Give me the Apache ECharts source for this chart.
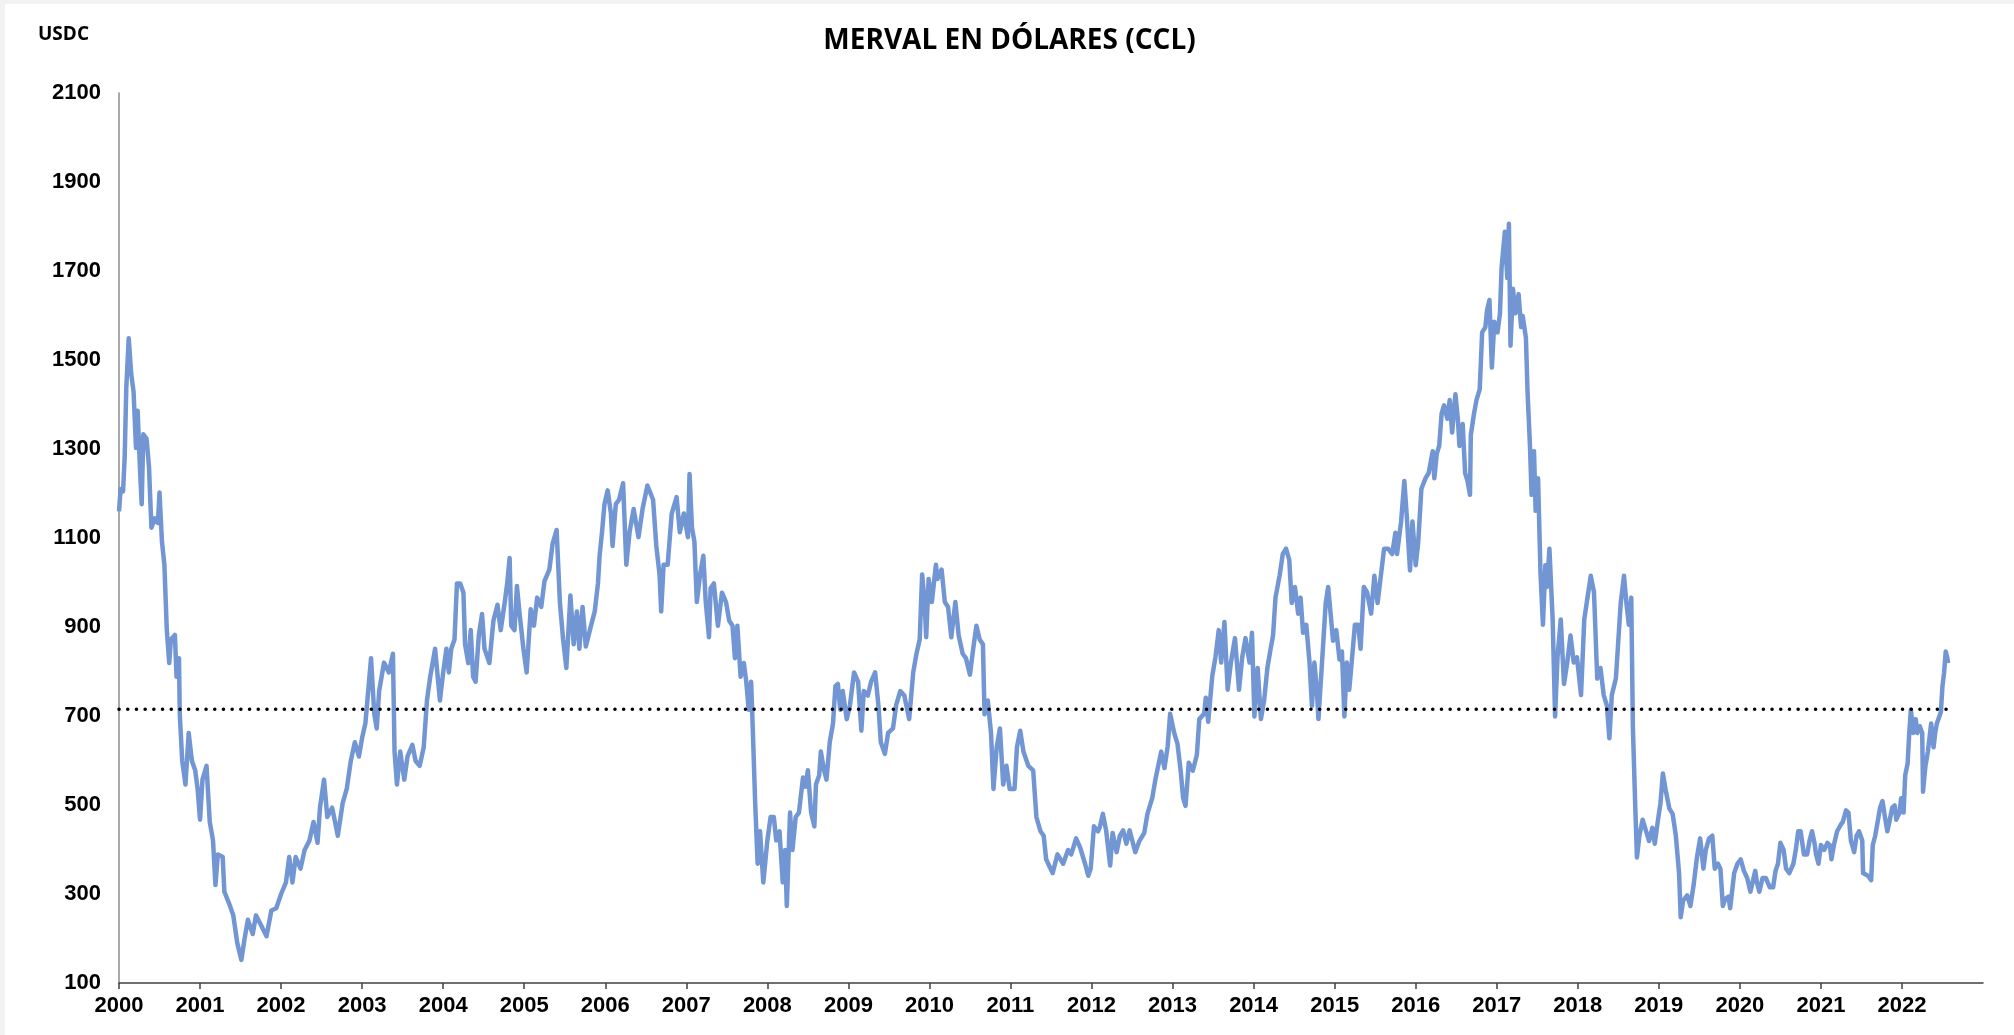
<!DOCTYPE html>
<html lang="es">
<head>
    <meta charset="UTF-8">
    <title>MERVAL EN DÓLARES (CCL)</title>
    <script src="https://cdn.jsdelivr.net/npm/echarts@6/dist/echarts.min.js"></script>
    <style>
        html, body { margin: 0; padding: 0; background: #f2f2f2; }
        #main { position: absolute; left: 5px; top: 4px; width: 2009px; height: 1031px; background: #ffffff; }
    </style>
</head>
<body>
<div id="main"></div>
<script>
    // MERVAL en dolares CCL: [año decimal, USD]
    var tramo2000 = [
        [2000.00,1160],[2000.02,1210],[2000.05,1205],[2000.07,1281],[2000.09,1438],[2000.12,1549],[2000.15,1470],
        [2000.18,1428],[2000.21,1302],[2000.23,1386],[2000.26,1250],[2000.28,1176],[2000.30,1333],[2000.34,1323],
        [2000.37,1260],[2000.40,1123],[2000.44,1144],[2000.48,1134],[2000.50,1202],[2000.53,1092],[2000.56,1040],
        [2000.59,893],[2000.62,819],[2000.64,872],[2000.69,882],[2000.71,788],[2000.74,830],[2000.75,704],
        [2000.78,599],[2000.82,546],[2000.86,662],[2000.90,599],[2000.94,578],[2000.97,536],
        [2001.00,467],[2001.03,557],[2001.08,588],[2001.12,462],[2001.16,420],[2001.19,320],[2001.22,389],
        [2001.28,383],[2001.30,305],[2001.36,278],[2001.41,252],[2001.46,189],[2001.51,152],[2001.55,200],
        [2001.59,242],[2001.65,210],[2001.69,252],[2001.75,231],[2001.82,205],[2001.88,263],[2001.94,268],
        [2002.00,300],[2002.06,326],[2002.10,383],[2002.14,326],[2002.18,383],[2002.24,357],[2002.29,399],
        [2002.35,420],[2002.40,462],[2002.45,415],[2002.48,494],[2002.53,557],[2002.57,473],[2002.63,494],
        [2002.70,431],[2002.76,504],[2002.81,536],[2002.86,599],[2002.91,641],[2002.96,609],
        [2003.00,651],[2003.04,683],[2003.08,767],[2003.11,830],[2003.15,704],[2003.18,672],[2003.21,756],
        [2003.27,820],[2003.33,798],[2003.38,840],[2003.40,620],[2003.43,546],[2003.47,620],[2003.52,557],
        [2003.56,609],[2003.62,635],[2003.66,599],[2003.71,588],[2003.76,630],[2003.80,735],[2003.84,788],
        [2003.90,851],[2003.96,735]
    ];
    var tramo2004 = [
        [2004.00,798],[2004.04,851],[2004.07,798],[2004.10,851],[2004.14,872],[2004.17,998],[2004.21,998],
        [2004.25,977],[2004.27,861],[2004.31,819],[2004.34,893],[2004.37,788],[2004.40,777],[2004.44,882],
        [2004.48,929],[2004.51,851],[2004.57,819],[2004.62,914],[2004.67,950],[2004.71,893],[2004.76,956],
        [2004.79,998],[2004.82,1055],[2004.84,903],[2004.88,893],[2004.91,992],[2004.94,935],[2004.99,851],
        [2005.03,798],[2005.08,940],[2005.12,903],[2005.16,966],[2005.21,945],[2005.25,1003],[2005.31,1029],
        [2005.35,1087],[2005.40,1118],[2005.44,956],[2005.48,872],[2005.52,808],[2005.57,971],[2005.61,861],
        [2005.65,935],[2005.68,851],[2005.72,945],[2005.76,856],[2005.81,893],[2005.87,935],[2005.91,998],
        [2005.93,1060],[2005.96,1113],[2005.99,1176],
        [2006.03,1207],[2006.07,1155],[2006.09,1082],[2006.13,1176],[2006.17,1186],[2006.22,1223],[2006.26,1040],
        [2006.30,1113],[2006.35,1165],[2006.41,1102],[2006.46,1165],[2006.52,1218],[2006.59,1186],[2006.63,1082],
        [2006.67,1018],[2006.69,935],[2006.72,1040],[2006.77,1040],[2006.82,1155],[2006.88,1192],[2006.92,1113],
        [2006.97,1155],[2007.02,1102],[2007.04,1244],[2007.07,1123],[2007.10,1092],[2007.13,956],[2007.17,1018],
        [2007.21,1060],[2007.24,956],[2007.28,877],[2007.30,987],[2007.34,998],[2007.39,903],[2007.44,977],
        [2007.49,956],[2007.53,914],[2007.57,903],[2007.60,830],[2007.63,903],[2007.67,788],[2007.71,819],
        [2007.74,777],[2007.77,714],[2007.80,777],[2007.82,672],[2007.85,504],[2007.88,368],[2007.91,441],
        [2007.95,326],[2008.00,420],[2008.04,473],[2008.08,473]
    ];
    var tramo2008 = [
        [2008.11,420],[2008.15,441],[2008.19,326],[2008.22,399],[2008.24,273],[2008.28,483],[2008.31,399],
        [2008.35,473],[2008.39,483],[2008.44,562],[2008.47,541],[2008.50,578],[2008.54,483],[2008.58,452],
        [2008.60,546],[2008.64,567],[2008.66,620],[2008.70,578],[2008.73,557],[2008.77,641],[2008.81,683],
        [2008.84,767],[2008.87,772],[2008.90,714],[2008.93,756],[2008.98,693],
        [2009.02,725],[2009.07,798],[2009.12,777],[2009.16,667],[2009.19,756],[2009.24,746],[2009.28,777],
        [2009.33,798],[2009.37,725],[2009.40,641],[2009.45,615],[2009.49,662],[2009.55,672],[2009.59,725],
        [2009.64,756],[2009.69,746],[2009.75,693],[2009.80,798],[2009.84,840],[2009.88,872],[2009.91,1018],
        [2009.94,956],[2009.96,877],[2009.99,1008],
        [2010.03,956],[2010.08,1040],[2010.10,1008],[2010.15,1029],[2010.19,956],[2010.23,945],[2010.27,877],
        [2010.32,956],[2010.36,882],[2010.41,840],[2010.45,830],[2010.50,793],[2010.54,851],[2010.58,903],
        [2010.62,872],[2010.66,861],[2010.68,704],[2010.72,735],[2010.76,662],[2010.79,536],[2010.83,630],
        [2010.87,672],[2010.91,546],[2010.95,588],[2010.99,536],
        [2011.05,536],[2011.08,630],[2011.12,667],[2011.16,620],[2011.22,588],[2011.28,578],[2011.32,473],
        [2011.37,441],[2011.41,431],[2011.44,378],[2011.52,347],[2011.58,389],[2011.65,368],[2011.71,399],
        [2011.75,389],[2011.81,425],[2011.86,404],[2011.92,368],[2011.96,341],[2011.99,357],
        [2012.03,452],[2012.08,441]
    ];
    var tramo2012 = [
        [2012.10,449],[2012.14,480],[2012.18,443],[2012.23,364],[2012.26,437],[2012.31,394],[2012.35,431],
        [2012.39,443],[2012.43,413],[2012.47,443],[2012.54,394],[2012.59,419],[2012.65,437],[2012.69,480],
        [2012.75,516],[2012.79,559],[2012.86,620],[2012.90,583],[2012.94,632],[2012.97,705],
        [2013.02,662],[2013.06,638],[2013.10,577],[2013.13,516],[2013.16,498],[2013.20,595],[2013.25,577],
        [2013.30,613],[2013.33,693],[2013.39,705],[2013.41,741],[2013.44,687],[2013.49,790],[2013.53,833],
        [2013.57,893],[2013.60,820],[2013.64,911],[2013.68,759],[2013.72,820],[2013.77,875],[2013.82,759],
        [2013.86,833],[2013.90,875],[2013.95,820],[2013.98,887],
        [2014.01,699],[2014.05,808],[2014.09,693],[2014.13,735],[2014.17,808],[2014.21,851],[2014.24,881],
        [2014.27,966],[2014.32,1015],[2014.36,1064],[2014.40,1076],[2014.44,1051],[2014.47,954],[2014.51,990],
        [2014.55,930],[2014.58,966],[2014.61,887],[2014.65,905],[2014.69,820],[2014.72,723],[2014.75,820],
        [2014.78,759],[2014.80,693],[2014.84,808],[2014.89,954],[2014.92,990],[2014.95,930],[2014.98,869],
        [2015.02,893],[2015.06,827],[2015.09,845],[2015.12,699],[2015.15,820],[2015.18,759],[2015.21,820],
        [2015.25,905],[2015.29,905],[2015.32,851],[2015.36,990],[2015.40,978],[2015.45,930],[2015.49,1015],
        [2015.53,954],[2015.57,1015],[2015.61,1076],[2015.66,1076],[2015.71,1064],[2015.75,1112],[2015.77,1064],
        [2015.82,1137],[2015.86,1228],[2015.89,1149],[2015.93,1027],[2015.96,1137],
        [2016.00,1039],[2016.03,1088],[2016.07,1210],[2016.12,1234],[2016.16,1246]
    ];
    var tramo2016 = [
        [2016.21,1295],[2016.23,1234],[2016.26,1289],[2016.29,1307],[2016.32,1380],[2016.35,1398],[2016.39,1368],
        [2016.42,1410],[2016.45,1337],[2016.49,1423],[2016.52,1368],[2016.54,1307],[2016.58,1356],[2016.61,1246],
        [2016.64,1228],[2016.67,1197],[2016.68,1331],[2016.72,1380],[2016.75,1410],[2016.79,1434],[2016.82,1562],
        [2016.86,1574],[2016.88,1611],[2016.91,1635],[2016.94,1483],[2016.97,1586],
        [2017.01,1562],[2017.04,1605],[2017.06,1708],[2017.10,1788],[2017.13,1684],[2017.15,1806],[2017.17,1532],
        [2017.20,1660],[2017.23,1605],[2017.27,1648],[2017.30,1574],[2017.32,1599],[2017.36,1550],[2017.38,1429],
        [2017.41,1307],[2017.43,1197],[2017.46,1295],[2017.48,1161],[2017.51,1234],[2017.54,1021],[2017.57,905],
        [2017.60,1039],[2017.62,990],[2017.65,1076],[2017.69,917],[2017.72,699],[2017.75,832],[2017.79,917],
        [2017.83,772],[2017.87,820],[2017.91,881],[2017.95,820],[2017.99,832],
        [2018.04,747],[2018.08,917],[2018.12,966],[2018.16,1015],[2018.20,978],[2018.24,784],[2018.28,808],
        [2018.32,747],[2018.36,723],[2018.39,650],[2018.42,747],[2018.47,784],[2018.50,869],[2018.53,954],
        [2018.57,1015],[2018.60,954],[2018.63,905],[2018.66,966],[2018.68,674],[2018.71,492],[2018.73,382],
        [2018.76,431],[2018.80,467],[2018.84,443],[2018.88,419],[2018.92,449],[2018.95,413],[2018.99,467],
        [2019.02,504],[2019.05,571],[2019.09,528],[2019.13,492],[2019.17,480],[2019.21,431],[2019.25,346],
        [2019.27,248],[2019.30,285],[2019.35,297],[2019.39,273],[2019.43,321],[2019.47,382]
    ];
    var tramo2019 = [
        [2019.51,425],[2019.55,357],[2019.58,399],[2019.62,425],[2019.66,431],[2019.69,357],[2019.73,368],
        [2019.76,357],[2019.79,273],[2019.82,289],[2019.86,294],[2019.88,268],[2019.93,347],[2019.97,368],
        [2020.01,378],[2020.05,352],[2020.09,336],[2020.13,305],[2020.19,352],[2020.21,326],[2020.24,305],
        [2020.28,336],[2020.32,336],[2020.37,315],[2020.41,315],[2020.44,352],[2020.47,368],[2020.50,415],
        [2020.54,399],[2020.57,357],[2020.61,347],[2020.66,368],[2020.69,399],[2020.72,441],[2020.75,441],
        [2020.79,389],[2020.83,389],[2020.86,420],[2020.89,441],[2020.92,415],[2020.94,389],[2020.97,368],
        [2021.00,410],[2021.04,399],[2021.08,415],[2021.11,410],[2021.13,378],[2021.16,410],[2021.20,441],
        [2021.25,457],[2021.27,462],[2021.31,488],[2021.34,483],[2021.37,420],[2021.41,394],[2021.44,431],
        [2021.47,441],[2021.51,420],[2021.52,347],[2021.58,341],[2021.62,331],[2021.64,410],[2021.67,431],
        [2021.70,462],[2021.73,494],[2021.76,509],[2021.79,473],[2021.82,441],[2021.85,467],[2021.88,494],
        [2021.91,499],[2021.93,467],[2021.97,483],[2021.99,515],
        [2022.02,483],[2022.04,567],[2022.07,593],[2022.09,662],[2022.11,714],[2022.14,662],[2022.17,693],
        [2022.19,662],[2022.22,677],[2022.25,662],[2022.26,530],[2022.29,588],[2022.32,620],[2022.34,651],
        [2022.36,683],[2022.39,630],[2022.41,662],[2022.43,683],[2022.45,693],[2022.48,709],[2022.50,767],
        [2022.52,798],[2022.54,845],[2022.56,830],[2022.57,819]
    ];
    // promedio (linea punteada)
    var promedio = 715;
    var promedioDesde = 2000, promedioHasta = 2022.57;
    // ejes
    var yMin = 100, yMax = 2100, yPaso = 200;
    var xMin = 2000, xMax = 2023;

    var serie = [].concat(tramo2000, tramo2004, tramo2008, tramo2012, tramo2016, tramo2019);

    var myChart = echarts.init(document.getElementById('main'));
    var option = {
        animation: false,
        backgroundColor: '#ffffff',
        title: {
            text: 'MERVAL EN DÓLARES (CCL)',
            left: 'center',
            top: 23,
            padding: 0,
            textStyle: {
                fontFamily: 'Open Sans',
                fontWeight: 'bold',
                fontSize: 28,
                color: '#000000'
            }
        },
        graphic: [{
            type: 'text',
            left: 33,
            top: 21,
            style: {
                text: 'USDC',
                fontFamily: 'Open Sans',
                fontWeight: 'bold',
                fontSize: 19,
                fill: '#000000'
            }
        }],
        grid: {
            left: 114,
            right: 31,
            top: 89,
            bottom: 52
        },
        xAxis: {
            type: 'value',
            min: xMin,
            max: xMax,
            interval: 1,
            splitLine: { show: false },
            axisLine: { lineStyle: { color: '#404040', width: 1.5 } },
            axisTick: { show: true, length: 6, lineStyle: { color: '#404040', width: 1.5 } },
            axisLabel: {
                margin: 12,
                showMaxLabel: false,
                fontFamily: 'Liberation Sans',
                fontWeight: 'bold',
                fontSize: 22,
                color: '#000000',
                formatter: function (v) {
                    return v < xMax ? String(v) : '';
                }
            }
        },
        yAxis: {
            type: 'value',
            min: yMin,
            max: yMax,
            interval: yPaso / 2,
            splitLine: { show: false },
            axisLine: { show: true, lineStyle: { color: '#8c8c8c', width: 1.5 } },
            axisTick: { show: false },
            axisLabel: {
                margin: 18,
                fontFamily: 'Liberation Sans',
                fontWeight: 'bold',
                fontSize: 22,
                color: '#000000',
                formatter: function (v) {
                    return (v - yMin) % yPaso === 0 ? String(v) : '';
                }
            }
        },
        series: [
            {
                name: 'MERVAL USDC',
                type: 'line',
                data: serie,
                showSymbol: false,
                symbol: 'none',
                lineStyle: { color: '#7196d3', width: 4.5, join: 'round' },
                z: 2
            },
            {
                name: 'Promedio',
                type: 'line',
                data: [[promedioDesde, promedio], [promedioHasta, promedio]],
                showSymbol: false,
                symbol: 'none',
                lineStyle: { color: '#000000', width: 3.5, type: [0.1, 8.6], cap: 'round' },
                z: 3
            }
        ]
    };
    myChart.setOption(option);
</script>
</body>
</html>
